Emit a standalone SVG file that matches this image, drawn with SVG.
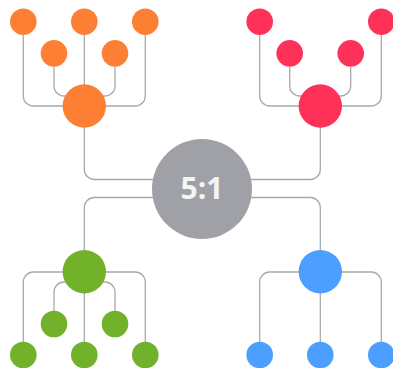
<svg xmlns="http://www.w3.org/2000/svg" width="393" height="368" viewBox="0 0 393 368">
<style>
.c{fill:none;stroke:#a9a9ad;stroke-width:1.3}
.o{fill:#fd7f34}
.r{fill:#fe3259}
.g{fill:#72b22a}
.b{fill:#4d9fff}
</style>
<rect width="393" height="368" fill="#fff"/>
<g id="connectors" class="c">
<path d="M23.3,22 V96 A10,10 0 0 0 33.3,106 H84.3"/>
<path d="M145.3,22 V96 A10,10 0 0 1 135.3,106 H84.3"/>
<path d="M54,53 V86 A10,10 0 0 0 64,96 H84.3"/>
<path d="M115,53 V86 A10,10 0 0 1 105,96 H84.3"/>
<path d="M84.3,22 V106"/>
<path d="M84.3,106 V169.5 A10,10 0 0 0 94.3,179.5 H202"/>
<path d="M259.7,22 V96 A10,10 0 0 0 269.7,106 H320.3"/>
<path d="M381.3,22 V96 A10,10 0 0 1 371.3,106 H320.3"/>
<path d="M289.7,53 V86 A10,10 0 0 0 299.7,96 H320.3"/>
<path d="M350.7,53 V86 A10,10 0 0 1 340.7,96 H320.3"/>
<path d="M320.3,106 V169.5 A10,10 0 0 1 310.3,179.5 H202"/>
<path d="M202,197.5 H94.3 A10,10 0 0 0 84.3,207.5 V272"/>
<path d="M202,197.5 H310.3 A10,10 0 0 1 320.3,207.5 V272"/>
<path d="M84.3,272 H33.3 A10,10 0 0 0 23.3,282 V355"/>
<path d="M84.3,272 H135.3 A10,10 0 0 1 145.3,282 V355"/>
<path d="M84.3,282 H64 A10,10 0 0 0 54,292 V324"/>
<path d="M84.3,282 H105 A10,10 0 0 1 115,292 V324"/>
<path d="M84.3,272 V355"/>
<path d="M320.3,272 H269.7 A10,10 0 0 0 259.7,282 V355"/>
<path d="M320.3,272 H371.3 A10,10 0 0 1 381.3,282 V355"/>
<path d="M320.3,272 V355"/>
</g>
<g id="orange">
<circle class="o" cx="23.3" cy="21.7" r="13.3"/>
<circle class="o" cx="84.3" cy="21.7" r="13.3"/>
<circle class="o" cx="145.3" cy="21.7" r="13.3"/>
<circle class="o" cx="54" cy="53.3" r="13.3"/>
<circle class="o" cx="115" cy="53.3" r="13.3"/>
<circle class="o" cx="84.3" cy="106" r="21.7"/>
</g>
<g id="red">
<circle class="r" cx="259.7" cy="21.7" r="13.3"/>
<circle class="r" cx="381.3" cy="21.7" r="13.3"/>
<circle class="r" cx="289.7" cy="53.3" r="13.3"/>
<circle class="r" cx="350.7" cy="53.3" r="13.3"/>
<circle class="r" cx="320.3" cy="106" r="21.7"/>
</g>
<g id="green">
<circle class="g" cx="84.3" cy="271.7" r="21.7"/>
<circle class="g" cx="54" cy="324" r="13.3"/>
<circle class="g" cx="115" cy="324" r="13.3"/>
<circle class="g" cx="23.3" cy="355" r="13.3"/>
<circle class="g" cx="84.3" cy="355" r="13.3"/>
<circle class="g" cx="145.3" cy="355" r="13.3"/>
</g>
<g id="blue">
<circle class="b" cx="320.3" cy="271.7" r="21.7"/>
<circle class="b" cx="259.7" cy="355" r="13.3"/>
<circle class="b" cx="320.3" cy="355" r="13.3"/>
<circle class="b" cx="381.3" cy="355" r="13.3"/>
</g>
<g id="center">
<circle cx="202" cy="189" r="50" fill="#a0a1a6"/>
<text x="202" y="199.3" text-anchor="middle" font-family="Open Sans, sans-serif" font-weight="700" font-size="30" fill="#f4f4f4">5:1</text>
</g>
</svg>
